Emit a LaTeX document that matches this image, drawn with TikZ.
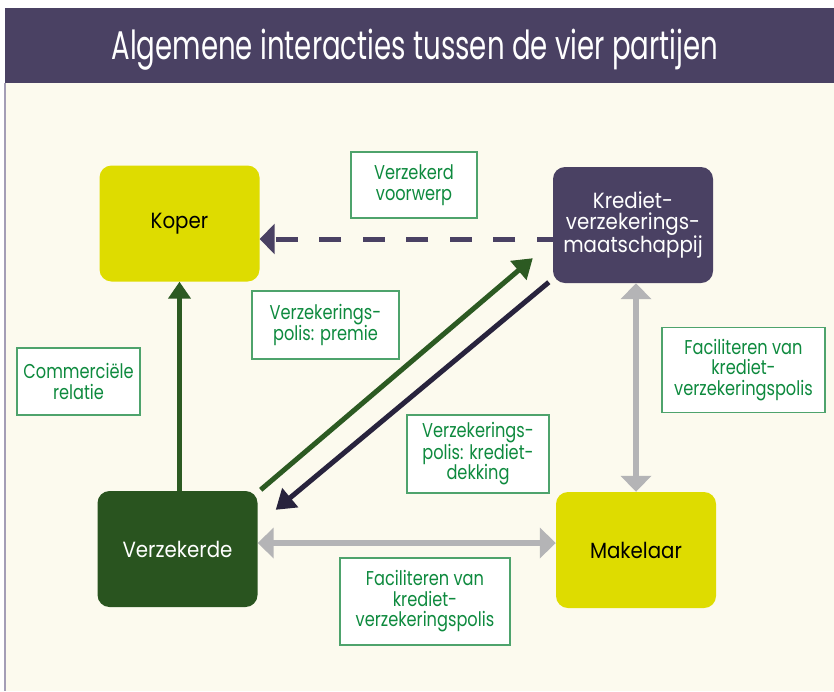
\documentclass[tikz,border=0pt]{standalone}
\usepackage{fontspec}
\setmainfont{Poppins}[FakeStretch=0.9]
\newfontfamily\titlefont{Poppins}[FakeStretch=0.69]
\newfontfamily\labfont{Poppins}[FakeStretch=0.81]
\usetikzlibrary{arrows.meta,calc}
\definecolor{band}{HTML}{4A4163}
\definecolor{cream}{HTML}{FCFAEE}
\definecolor{leftline}{HTML}{A49EB6}
\definecolor{kopery}{HTML}{DEDC00}
\definecolor{dkgreen}{HTML}{29541F}
\definecolor{arrgreen}{HTML}{2C5A22}
\definecolor{arrdark}{HTML}{28233D}
\definecolor{labgreen}{HTML}{0E8A3E}
\definecolor{labborder}{HTML}{4EA36C}
\definecolor{arrgray}{HTML}{B4B4B6}
\begin{document}
\begin{tikzpicture}[x=1pt,y=-1pt,
  party/.style={rounded corners=12pt, minimum width=160pt, minimum height=116pt,
    inner sep=0pt, align=center, font=\fontsize{22pt}{21pt}\selectfont},
  lab/.style={draw=labborder, line width=1.2pt, fill=white, text=labgreen,
    inner sep=0pt, align=center, font=\labfont\fontsize{20pt}{20.5pt}\selectfont},
  greenarrow/.style={draw=arrgreen, line width=5pt},
  darkarrow/.style={draw=arrdark, line width=5pt},
  grayarrow/.style={draw=arrgray, line width=6.5pt,
    {Triangle[length=16pt,width=30pt]}-{Triangle[length=16pt,width=30pt]}},
]
\useasboundingbox (0,0) rectangle (834,691);
\fill[white] (0,0) rectangle (834,691);
\fill[cream] (5,83) rectangle (834,691);
\fill[band] (5,8) rectangle (834,83);
\draw[leftline, line width=2pt] (5,83) -- (5,691);
\node[text=white, font=\titlefont\fontsize{40pt}{40pt}\selectfont, inner sep=0pt]
  (title) at (415,50) {Algemene interacties tussen de vier partijen};

% parties
\node[party, fill=kopery, text=black] (koper) at (179.5,223.5) {Koper};
\node[party, fill=band, text=white] (krediet) at (633,225)
  {Krediet-\\verzekerings-\\maatschappij};
\node[party, fill=dkgreen, text=white] (verz) at (177.5,549) {Verzekerde};
\node[party, fill=kopery, text=black] (makel) at (636,550) {Makelaar};

% labels
\node[lab, minimum width=126pt, minimum height=66pt] (lvoorwerp) at (414,185)
  {Verzekerd\\voorwerp};
\node[lab, minimum width=147pt, minimum height=68pt] (lpremie) at (325.5,325)
  {Verzekerings-\\polis: premie};
\node[lab, minimum width=123pt, minimum height=67pt] (lcomm) at (78.5,381.5)
  {Commerciële\\relatie};
\node[lab, minimum width=142pt, minimum height=78pt] (ldekking) at (478,454)
  {Verzekerings-\\polis: krediet-\\dekking};
\node[lab, minimum width=163pt, minimum height=85pt] (lfacr) at (743.5,370)
  {Faciliteren van\\krediet-\\verzekeringspolis};
\node[lab, minimum width=170pt, minimum height=87pt] (lfacb) at (425,601.5)
  {Faciliteren van\\krediet-\\verzekeringspolis};

% connectors
\draw[greenarrow, -{Triangle[length=17pt,width=22pt]}]
  (verz.north -| koper.south) -- (koper.south);
\draw[draw=band, line width=5pt, dash pattern=on 22pt off 21.5pt, dash phase=6pt,
  -{Triangle[length=15pt,width=30pt]}]
  ([yshift=-14pt]krediet.west) -- ([yshift=-14pt]krediet.west -| koper.east);
\draw[greenarrow, -{Triangle[length=19pt,width=24pt]}]
  ($(verz.north east)+(3,-1)$) -- ($(krediet.south west)+(-20,-25)$);
\draw[darkarrow, -{Triangle[length=19pt,width=24pt]}]
  ($(krediet.south west)+(-4,-1)$) -- ($(verz.north east)+(18,19)$);
\draw[grayarrow] ([yshift=6pt]verz.east) -- ([yshift=6pt]verz.east -| makel.west);
\draw[grayarrow] (makel.north |- krediet.south) -- (makel.north);
\end{tikzpicture}
\end{document}
